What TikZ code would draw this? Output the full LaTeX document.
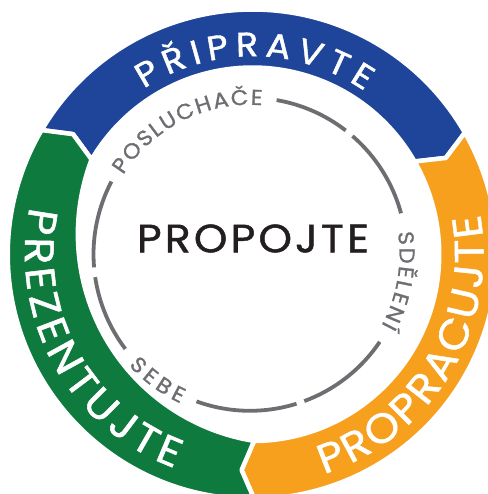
\documentclass[tikz,border=0pt]{standalone}
\usepackage{fontspec}
\setmainfont{Poppins}
\newfontfamily\ringfont{Poppins}[FakeBold=1.2, FakeStretch=1.08]
\newfontfamily\grayfont{Poppins}[FakeBold=1.1, FakeStretch=1.06]
\newfontfamily\corefont{Poppins}[FakeBold=1.2, FakeStretch=1.08, LetterSpace=8]
\usetikzlibrary{decorations.text}
\definecolor{ringblue}{HTML}{1E4599}
\definecolor{ringorange}{HTML}{F6A01D}
\definecolor{ringgreen}{HTML}{0E7A3E}
\definecolor{dashgray}{HTML}{6D6E71}
\definecolor{inkblack}{HTML}{231F20}
\begin{document}
\begin{tikzpicture}[x=1pt,y=1pt,
  segment/.style={fill=#1, draw=white, line width=4.5pt, line join=round},
  ringlabel/.style={decorate, decoration={text along path, text align={fit to path}, text color=white}},
  innerlabel/.style={decorate, decoration={text along path, text align={fit to path}, text color=dashgray}},
  dashring/.style={draw=dashgray, line width=3.8pt}]
\useasboundingbox (-252.5,-239.7) rectangle (234.5,254.3);
% ring segments (outer 244.75, inner 186.75 before the white border)
\fill[segment=ringblue] (149.5:244.75) arc[start angle=149.5, end angle=29.8, radius=244.75]
  -- (26.5:216) -- (29.8:186.75) arc[start angle=29.8, end angle=149.5, radius=186.75]
  -- (146.2:216) -- cycle;
\fill[segment=ringorange] (29.8:244.75) arc[start angle=29.8, end angle=-89.6, radius=244.75]
  -- (-92.9:216) -- (-89.6:186.75) arc[start angle=-89.6, end angle=29.8, radius=186.75]
  -- (26.5:216) -- cycle;
\fill[segment=ringgreen] (270.4:244.75) arc[start angle=270.4, end angle=149.5, radius=244.75]
  -- (146.2:216) -- (149.5:186.75) arc[start angle=159.15, end angle=260.87, radius=209.5]
  -- (267.1:216) -- cycle;
% ring labels
\path[ringlabel, decoration={text={|\ringfont\fontsize{34}{34}\selectfont|PŘIPRAVTE}}]
  (123.3:198) arc[start angle=123.3, end angle=55.5, radius=198];
\path[ringlabel, decoration={text={|\ringfont\fontsize{41}{41}\selectfont|PREZENTUJTE}}]
  (168:227.5) arc[start angle=168, end angle=250, radius=227.5];
\path[ringlabel, decoration={text={|\ringfont\fontsize{41}{41}\selectfont|PROPRACUJTE}}]
  (-72:231) arc[start angle=-72, end angle=10, radius=231];
% inner dashed circle with its labels
\begin{scope}[shift={(-2.5,0)}]
  \draw[dashring] (80.2:156.5) arc[start angle=80.2, end angle=52.3, radius=156.5];
  \draw[dashring] (49.1:156.5) arc[start angle=49.1, end angle=15.2, radius=156.5];
  \draw[dashring] (-34:156.5) arc[start angle=-34, end angle=-69.7, radius=156.5];
  \draw[dashring] (-72.7:156.5) arc[start angle=-72.7, end angle=-110, radius=156.5];
  \draw[dashring] (-142.8:156.5) arc[start angle=-142.8, end angle=-171.6, radius=156.5];
  \draw[dashring] (-175.2:156.5) arc[start angle=-175.2, end angle=-207.7, radius=156.5];
  \path[innerlabel, decoration={text={|\grayfont\fontsize{21.5}{21.5}\selectfont|POSLUCHAČE}}]
    (148:149.5) arc[start angle=148, end angle=85.3, radius=149.5];
  \path[innerlabel, decoration={text={|\grayfont\fontsize{21.5}{21.5}\selectfont|SDĚLENÍ}}]
    (8.5:149.5) arc[start angle=8.5, end angle=-28.5, radius=149.5];
  \path[innerlabel, decoration={text={|\grayfont\fontsize{21.5}{21.5}\selectfont|SEBE}}]
    (-137.5:164.5) arc[start angle=-137.5, end angle=-115, radius=164.5];
\end{scope}
\node[font=\corefont\fontsize{39.5}{39.5}\selectfont, text=inkblack, inner sep=0pt] (core) at (0.5,15.8) {PROPOJTE};
\end{tikzpicture}
\end{document}
